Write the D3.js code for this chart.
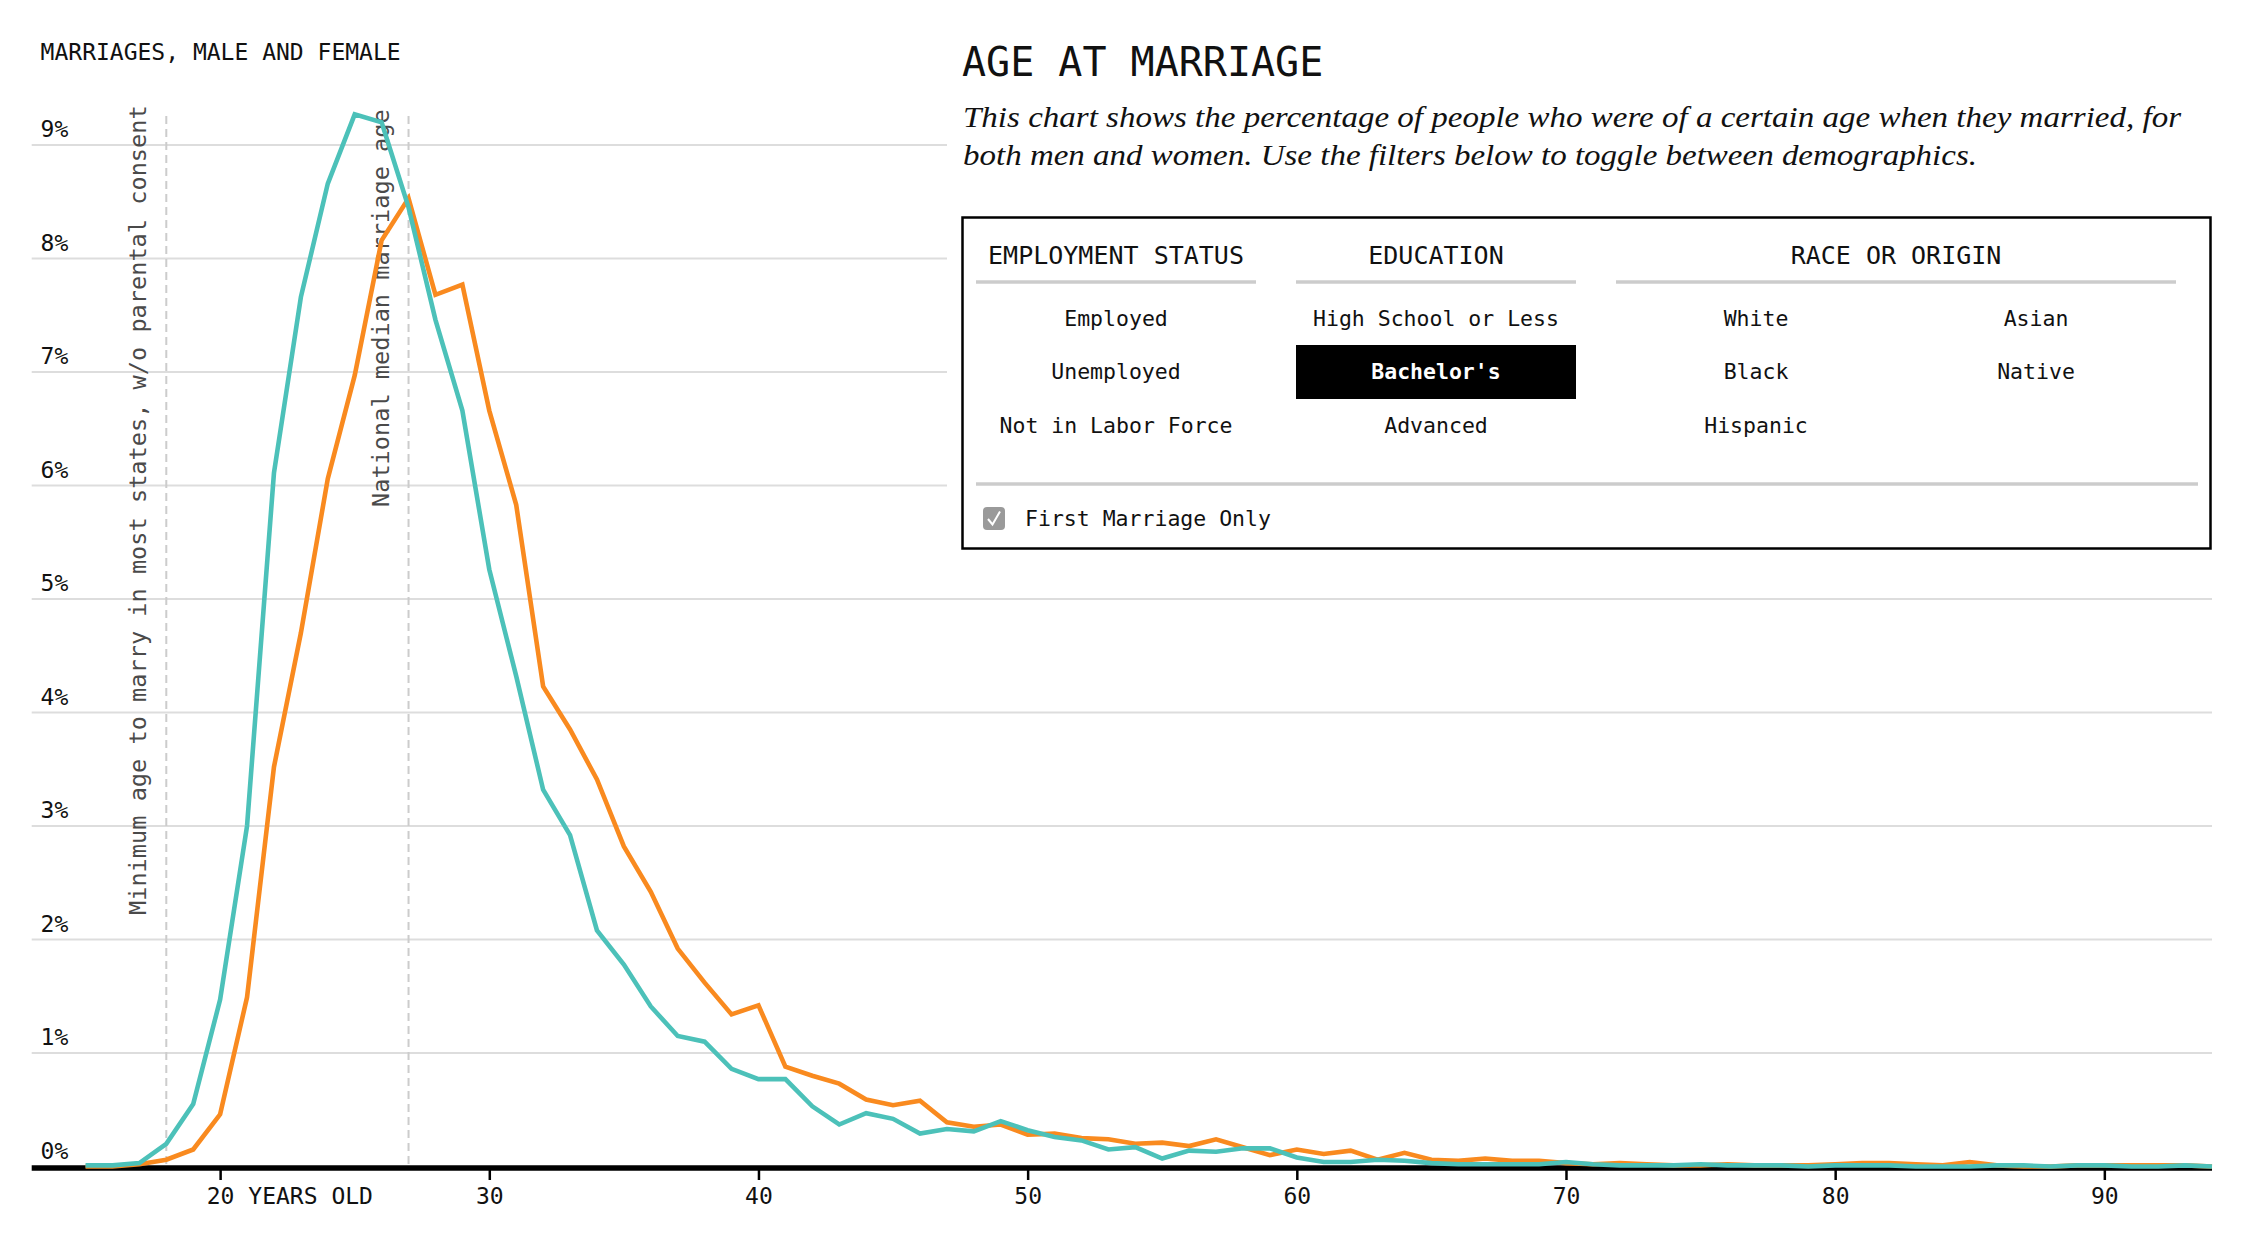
<!DOCTYPE html>
<html>
<head>
<meta charset="utf-8">
<script src="https://cdn.jsdelivr.net/npm/d3@7/dist/d3.min.js"></script>
<style>
  body { margin: 0; background: #fff; }
  svg text { font-family: "DejaVu Sans Mono", monospace; }
</style>
</head>
<body>
<svg id="svg-grafico"></svg>
<script>
// edades (una por año) y porcentaje de matrimonios a cada edad
const edades = [15,16,17,18,19,20,21,22,23,24,25,26,27,28,29,30,31,32,33,34,35,36,37,38,39,40,
  41,42,43,44,45,46,47,48,49,50,51,52,53,54,55,56,57,58,59,60,61,62,63,64,65,66,67,68,69,70,
  71,72,73,74,75,76,77,78,79,80,81,82,83,84,85,86,87,88,89,90,91,92,93,94]

// linea turquesa
const mujeres = [0.01,0.01,0.03,0.20,0.55,1.47,3.00,6.11,7.66,8.66,9.27,9.20,8.45,7.46,6.66,5.26,
  4.32,3.32,2.92,2.08,1.78,1.41,1.15,1.10,0.86,0.77,0.77,0.53,0.37,0.47,0.42,0.29,0.33,0.31,0.40,
  0.32,0.26,0.23,0.15,0.17,0.07,0.14,0.13,0.16,0.16,0.08,0.04,0.04,0.06,0.05,0.03,0.02,0.02,0.02,
  0.02,0.04,0.02,0.01,0.01,0.01,0.02,0.01,0.01,0.01,0.00,0.01,0.01,0.01,0.00,0.00,0.00,0.01,0.01,
  0.00,0.01,0.01,0.00,0.00,0.01,0.00]

// linea naranja
const hombres = [0.00,0.00,0.02,0.06,0.15,0.46,1.49,3.52,4.70,6.06,6.97,8.16,8.53,7.68,7.77,6.66,
  5.83,4.23,3.85,3.41,2.82,2.42,1.92,1.62,1.34,1.42,0.88,0.80,0.73,0.59,0.54,0.58,0.39,0.35,0.37,
  0.28,0.29,0.25,0.24,0.20,0.21,0.18,0.24,0.17,0.10,0.15,0.11,0.14,0.06,0.12,0.06,0.05,0.07,0.05,
  0.05,0.03,0.02,0.03,0.02,0.01,0.01,0.02,0.01,0.01,0.01,0.02,0.03,0.03,0.02,0.01,0.04,0.01,0.00,
  0.00,0.01,0.01,0.01,0.01,0.01,0.00]

// ticks de los ejes
const ticks_y = [0,1,2,3,4,5,6,7,8,9]
const ticks_x = [20,30,40,50,60,70,80,90]

// lineas de referencia
const referencias = [18, 27]
const textos_referencia = ["Minimum age to marry in most states, w/o parental consent",
  "National median marriage age"]

// filtros del panel
const grupos = ["EMPLOYMENT STATUS", "EDUCATION", "RACE OR ORIGIN"]
const empleo = ["Employed", "Unemployed", "Not in Labor Force"]
const educacion = ["High School or Less", "Bachelor's", "Advanced"]
const raza = ["White", "Black", "Hispanic", "Asian", "Native"]
const seleccionado = "Bachelor's"

const ancho = 2250
const alto = 1240
const mono = "DejaVu Sans Mono"

const svg = d3.select("#svg-grafico")
  .attr("width", ancho)
  .attr("height", alto)

// escalas
const x = d3.scaleLinear().domain([13, 94]).range([31.7, 2212])
const y = d3.scaleLinear().domain([0, 9]).range([1166.5, 145])

// grilla horizontal
svg.append("g").selectAll("line")
  .data(ticks_y.filter(d => d > 0))
  .join("line")
  .attr("x1", x.range()[0])
  .attr("x2", x.range()[1])
  .attr("y1", d => y(d))
  .attr("y2", d => y(d))
  .style("stroke", "#dddddd")
  .style("stroke-width", 2)

// etiquetas del eje y
svg.append("g").selectAll("text")
  .data(ticks_y)
  .join("text")
  .attr("x", 40.6)
  .attr("y", d => y(d) - 8)
  .style("font-size", "23px")
  .style("fill", "#111")
  .text(d => d + "%")

svg.append("text")
  .attr("x", 40.6)
  .attr("y", 59.5)
  .style("font-size", "23px")
  .style("fill", "#111")
  .text("MARRIAGES, MALE AND FEMALE")

// lineas punteadas de referencia
svg.append("g").selectAll("line")
  .data(referencias)
  .join("line")
  .attr("x1", d => x(d))
  .attr("x2", d => x(d))
  .attr("y1", 116)
  .attr("y2", y(0))
  .style("stroke", "#cccccc")
  .style("stroke-width", 2)
  .style("stroke-dasharray", "8,5")

// textos verticales al lado de cada referencia
const inicio_texto = [915, 507]
svg.append("g").selectAll("text")
  .data(referencias)
  .join("text")
  .attr("transform", (d, i) => `translate(${x(d) - 20},${inicio_texto[i]}) rotate(-90)`)
  .style("font-size", "23.6px")
  .style("fill", "#4a4a4a")
  .text((d, i) => textos_referencia[i])

// eje x
const eje_x = d3.axisBottom(x)
  .tickValues(ticks_x)
  .tickSize(12)
  .tickPadding(8)
  .tickFormat(d => d)

const g_eje = svg.append("g")
  .attr("transform", `translate(0,${y(0) + 1.5})`)
  .call(eje_x)
g_eje.select(".domain").remove()
g_eje.selectAll(".tick line").style("stroke", "#000").style("stroke-width", 2.5)
g_eje.selectAll(".tick text")
  .style("font-family", mono)
  .style("font-size", "23px")
  .style("fill", "#111")

// la primera etiqueta lleva "YEARS OLD" pero el numero queda centrado
g_eje.selectAll(".tick text").filter(d => d == 20).each(function () {
  const t = d3.select(this)
  const w = this.getComputedTextLength()
  t.attr("text-anchor", "start").attr("x", -w / 2).text("20 YEARS OLD")
})

// linea base negra gruesa
svg.append("line")
  .attr("x1", x.range()[0])
  .attr("x2", x.range()[1])
  .attr("y1", y(0) + 1.5)
  .attr("y2", y(0) + 1.5)
  .style("stroke", "#000")
  .style("stroke-width", 5.5)

// las dos series
const linea = d3.line()
  .x(d => x(d[0]))
  .y(d => y(d[1]))

const series = [
  { valores: hombres, color: "#f98a1f" },
  { valores: mujeres, color: "#4cc1b9" }
]

series.forEach(s => {
  svg.append("path")
    .datum(edades.map((e, i) => [e, s.valores[i]]))
    .attr("d", linea)
    .style("fill", "none")
    .style("stroke", s.color)
    .style("stroke-width", 4.6)
    .style("stroke-linejoin", "miter")
})

// ---------------- panel derecho ----------------
// fondo blanco que tapa la grilla
svg.append("rect")
  .attr("x", 947).attr("y", 0)
  .attr("width", ancho - 947).attr("height", 562)
  .style("fill", "#fff")

svg.append("text")
  .attr("x", 962)
  .attr("y", 76)
  .style("font-size", "40px")
  .style("fill", "#111")
  .text("AGE AT MARRIAGE")

const lineas_sub = [
  "This chart shows the percentage of people who were of a certain age when they married, for",
  "both men and women. Use the filters below to toggle between demographics."
]
const largo_sub = [1218, 1014]
svg.append("g").selectAll("text")
  .data(lineas_sub)
  .join("text")
  .attr("x", 963)
  .attr("y", (d, i) => 127 + i * 38)
  .attr("textLength", (d, i) => largo_sub[i])
  .attr("lengthAdjust", "spacingAndGlyphs")
  .style("font-family", "Liberation Serif, serif")
  .style("font-style", "italic")
  .style("font-size", "30px")
  .style("fill", "#111")
  .text(d => d)

// caja del panel
svg.append("rect")
  .attr("x", 962.5).attr("y", 217.5)
  .attr("width", 1248).attr("height", 331)
  .style("fill", "#fff")
  .style("stroke", "#000")
  .style("stroke-width", 2.5)

// titulos de grupo y lineas grises
const centros_grupo = [1116, 1436, 1896]
const reglas = [[976, 1256], [1296, 1576], [1616, 2176]]
svg.append("g").selectAll("text")
  .data(grupos)
  .join("text")
  .attr("x", (d, i) => centros_grupo[i])
  .attr("y", 263.5)
  .attr("text-anchor", "middle")
  .style("font-size", "25px")
  .style("fill", "#111")
  .text(d => d)

svg.append("g").selectAll("line")
  .data(reglas)
  .join("line")
  .attr("x1", d => d[0]).attr("x2", d => d[1])
  .attr("y1", 282).attr("y2", 282)
  .style("stroke", "#cccccc")
  .style("stroke-width", 3.5)

// opciones de cada filtro
const filas_y = [325.5, 379, 432.5]
function opciones(lista, cx, fila0) {
  lista.forEach((nombre, i) => {
    const fy = filas_y[fila0 + i]
    if (nombre == seleccionado) {
      svg.append("rect")
        .attr("x", cx - 140).attr("y", fy - 34)
        .attr("width", 280).attr("height", 54)
        .style("fill", "#000")
    }
    svg.append("text")
      .attr("x", cx)
      .attr("y", fy)
      .attr("text-anchor", "middle")
      .style("font-size", "21.5px")
      .style("font-weight", nombre == seleccionado ? "bold" : "normal")
      .style("fill", nombre == seleccionado ? "#fff" : "#111")
      .text(nombre)
  })
}
opciones(empleo, 1116, 0)
opciones(educacion, 1436, 0)
opciones(raza.slice(0, 3), 1756, 0)
opciones(raza.slice(3), 2036, 0)

// linea gris inferior y casilla
svg.append("line")
  .attr("x1", 976).attr("x2", 2198)
  .attr("y1", 484).attr("y2", 484)
  .style("stroke", "#cccccc")
  .style("stroke-width", 3.5)

svg.append("rect")
  .attr("x", 983).attr("y", 507)
  .attr("width", 22).attr("height", 23)
  .attr("rx", 4)
  .style("fill", "#9a9a9a")
svg.append("path")
  .attr("d", "M988,519 L992.5,524.5 L1000,511.5")
  .style("fill", "none")
  .style("stroke", "#fff")
  .style("stroke-width", 2)

svg.append("text")
  .attr("x", 1025)
  .attr("y", 525.5)
  .style("font-size", "21.5px")
  .style("fill", "#111")
  .text("First Marriage Only")
</script>
</body>
</html>
